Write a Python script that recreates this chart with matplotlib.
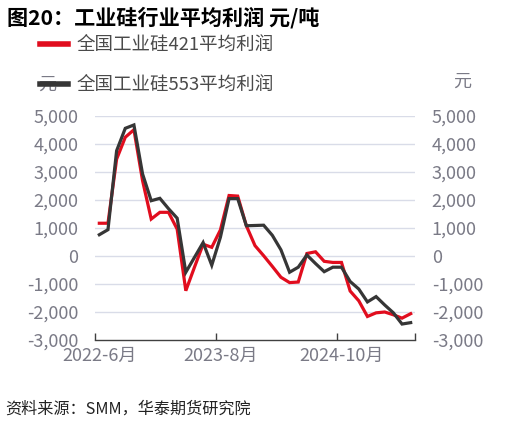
import matplotlib
matplotlib.use("Agg")
import matplotlib.pyplot as plt
import numpy as np

plt.rcParams["font.family"] = ["Noto Sans CJK SC", "DejaVu Sans"]

# monthly categories 2022-6 .. 2025-6
months = [f"{2022 + (5 + i) // 12}-{(5 + i) % 12 + 1}月" for i in range(37)]

profit_421 = [1170, 1170, 3460, 4240, 4510, 2690, 1320, 1560, 1560, 960,
              -1240, -400, 420, 310, 930, 2160, 2140, 1080, 370, 10,
              -370, -760, -950, -930, 90, 150, -190, -230, -230, -1250,
              -1600, -2160, -2030, -2000, -2100, -2220, -2060]
profit_553 = [760, 940, 3760, 4560, 4680, 2930, 1975, 2060, 1690, 1350,
              -580, -50, 480, -330, 670, 2050, 2050, 1080, 1090, 1100,
              740, 220, -580, -400, 35, -270, -560, -400, -400, -910,
              -1180, -1640, -1450, -1750, -2030, -2430, -2380]

yticks = [5000, 4000, 3000, 2000, 1000, 0, -1000, -2000, -3000]
label_idx = [0, 14, 28]

RED = "#e10d1e"
DARK = "#363636"
GRAY_TXT = "#7a7a86"

fig = plt.figure(figsize=(5.19, 4.26), dpi=100)
ax = fig.add_axes([95 / 519, 86 / 426, 320 / 519, 224 / 426])

x = np.arange(len(months))
l1, = ax.plot(x, profit_421, color=RED, lw=2.3, solid_joinstyle="miter",
              label="全国工业硅421平均利润")
l2, = ax.plot(x, profit_553, color=DARK, lw=2.3, solid_joinstyle="miter",
              label="全国工业硅553平均利润")

ax.set_xlim(-0.5, len(months) - 0.5)
ax.set_ylim(-3000, 5000)
ax.set_yticks(yticks)
ax.set_yticklabels([f"{v:,}" for v in yticks])
for v in yticks[:-1]:
    ax.axhline(v, color="#d9dce8", lw=1.0, zorder=0)

for s in ["left", "right", "top"]:
    ax.spines[s].set_visible(False)
ax.spines["bottom"].set_color("#404040")
ax.spines["bottom"].set_linewidth(1.0)

# category boundaries as tick marks, labels at category centres
ax.set_xticks([-0.5, 13.5, 27.5, len(months) - 0.5])
ax.set_xticklabels([])
ax.set_xticks(label_idx, minor=True)
ax.set_xticklabels([months[i] for i in label_idx], minor=True)
ax.tick_params(axis="x", which="major", direction="in", length=5,
               color="#404040", width=1.0)
ax.tick_params(axis="x", which="minor", length=0, pad=5,
               labelsize=13, labelcolor=GRAY_TXT)
ax.tick_params(axis="y", length=0, pad=12, labelsize=13, labelcolor=GRAY_TXT)

ax2 = ax.twinx()
ax2.set_ylim(ax.get_ylim())
ax2.set_yticks(yticks)
ax2.set_yticklabels([f"{v:,}" for v in yticks])
ax2.tick_params(axis="y", length=0, pad=12, labelsize=13, labelcolor=GRAY_TXT)
for s in ["left", "right", "top", "bottom"]:
    ax2.spines[s].set_visible(False)

fig.text(7 / 519, 1 - 18 / 426, "图20：工业硅行业平均利润 元/吨",
         fontsize=15.2, fontweight="bold", color="black", va="center", ha="left")

fig.text(47 / 519, 1 - 85 / 426, "元", fontsize=13, color=GRAY_TXT,
         ha="center", va="center")
fig.text(462 / 519, 1 - 82 / 426, "元", fontsize=13, color=GRAY_TXT,
         ha="center", va="center")

leg = fig.legend(handles=[l1, l2], loc="upper left",
                 bbox_to_anchor=(40 / 519, 1 - 36 / 426), frameon=False,
                 fontsize=13.3, handlelength=1.5, handletextpad=0.5,
                 labelspacing=1.2, borderaxespad=0, borderpad=0)
for t in leg.get_texts():
    t.set_color("#4a4a4a")
for h in leg.legend_handles:
    h.set_linewidth(4)

fig.text(5 / 519, 1 - 409 / 426, "资料来源：SMM，华泰期货研究院",
         fontsize=11.6, style="italic", color="#222222", ha="left", va="center")

fig.savefig("out.png", dpi=100)
